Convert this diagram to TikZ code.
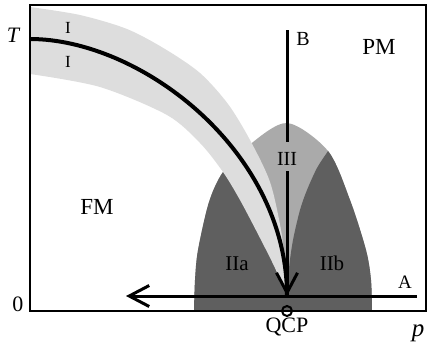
\documentclass[tikz,border=0pt]{standalone}
\usepackage{fontspec}
\setmainfont{Liberation Serif}
\usetikzlibrary{arrows.meta}
\definecolor{darkreg}{RGB}{95,95,95}
\definecolor{midreg}{RGB}{170,170,170}
\definecolor{bandreg}{RGB}{221,221,221}
\tikzset{
  lbl/.style={inner sep=0pt, anchor=base, font=\fontsize{#1}{#1}\selectfont},
  lbl/.default=20,
  axisline/.style={line width=2.6pt},
  mainline/.style={line width=4pt},
  pathline/.style={line width=3pt},
  barb/.style={-{Straight Barb[length=20pt,width=21pt,line width=3pt]}}
}
\begin{document}
\begin{tikzpicture}[x=1pt,y=-1pt]
\useasboundingbox (0,0) rectangle (436,346);
% dome
\def\domepath{plot[smooth] coordinates {(194,311) (195,280) (198,250) (209,202) (223,172) (248,146) (287,123) (328,151) (350,200) (366,250) (371,280) (372,311)} -- cycle}
\fill[midreg] \domepath;
\begin{scope}
  \clip \domepath;
  \fill[darkreg] (287,320) -- (287,296) .. controls (287,150) and (140,39) .. (30,39) -- (0,39) -- (0,320) -- cycle;
  \fill[darkreg] (287,320) -- plot[smooth] coordinates {(287,296) (289,268) (293,240) (300,210) (307,190) (317,168) (328,151) (345,125)} -- (436,100) -- (436,320) -- cycle;
\end{scope}
% band
\fill[bandreg] plot[smooth] coordinates {(30,7) (80,15) (127,29) (165,49) (200,73) (228,104) (250,140) (270,182) (281,230) (285,265) (287,296)}
  -- plot[smooth] coordinates {(287,296) (275,268) (260,238) (240,200) (223,172) (200,143) (167,115) (100,87) (30,74)} -- cycle;
% frame
\coordinate (origin) at (30,311);
\coordinate (tl) at (30,5);
\coordinate (tr) at (426,5);
\coordinate (br) at (426,311);
\draw[axisline] (origin) -- (tl) -- (tr) -- (br) -- cycle;
% critical line
\coordinate (Tc) at (30,39);
\coordinate (Bend) at (287,296);
\draw[mainline] (Tc) .. controls (140,39) and (287,150) .. (Bend);
% labels
\node[lbl=22] (T) at (13,42) {\itshape T};
\node[lbl=17] (I1) at (68,33) {I};
\node[lbl=17] (I2) at (68,67) {I};
\node[lbl=20] (Blbl) at (303,45) {B};
\node[lbl=23] (PM) at (379,54) {PM};
\node[lbl=23] (FM) at (97,214) {FM};
\node[lbl=20] (III) at (287,165) {III};
\node[lbl=21] (IIa) at (237,270) {IIa};
\node[lbl=21] (IIb) at (332,270) {IIb};
\node[lbl=19] (Alb) at (405,288) {A};
\node[lbl=22] (zero) at (18,311) {0};
\node[lbl=22] (QCPl) at (287,332) {QCP};
\node[lbl=25] (plbl) at (418,336) {\itshape p};
% path B
\coordinate (Btop) at (287,30);
\coordinate (Bgap1) at (287,142);
\coordinate (Bgap2) at (287,171);
\draw[pathline] (Btop) -- (Bgap1);
\draw[pathline,barb] (Bgap2) -- (Bend);
% path A
\coordinate (Astart) at (417,296);
\coordinate (Aend) at (126,296);
\draw[pathline,barb] (Astart) -- (Aend);
% QCP
\node[circle, draw, line width=2pt, minimum size=10pt, inner sep=0pt] (QCP) at (287,311) {};
\end{tikzpicture}
\end{document}
